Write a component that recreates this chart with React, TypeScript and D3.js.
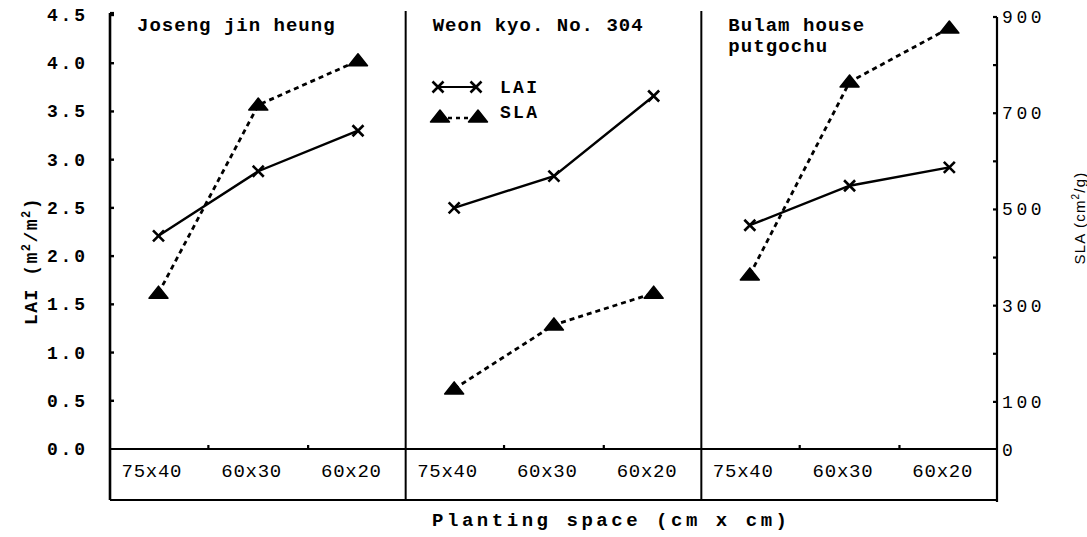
import React, { useEffect } from "react";
import * as d3 from "d3";

const cultivars = ["Joseng jin heung", "Weon kyo. No. 304", "Bulam house putgochu"];
const titleLines = [["Joseng jin heung"], ["Weon kyo. No. 304"], ["Bulam house", "putgochu"]];
const spacings = ["75x40", "60x30", "60x20"];
const laiValues = [
  [2.21, 2.88, 3.3],
  [2.5, 2.83, 3.66],
  [2.32, 2.73, 2.92],
];
const slaValues = [
  [326, 717, 809],
  [127, 260, 326],
  [364, 765, 877],
];
const laiTicks = [0, 0.5, 1, 1.5, 2, 2.5, 3, 3.5, 4, 4.5];
const slaTicks = [100, 200, 300, 400, 500, 600, 700, 800, 900];
const slaTickLabels = [0, 100, 300, 500, 700, 900];

const MONO = "'Liberation Mono', 'DejaVu Sans Mono', monospace";
const SANS = "'Liberation Sans', 'DejaVu Sans', sans-serif";

function XMark({ x, y }: { x: number; y: number }) {
  const s = 5.5;
  return (
    <path
      d={`M${x - s},${y - s}L${x + s},${y + s}M${x - s},${y + s}L${x + s},${y - s}`}
      stroke="#000"
      strokeWidth={2.6}
      fill="none"
    />
  );
}

function Tri({ x, y }: { x: number; y: number }) {
  return (
    <path
      d={`M${x},${y - 7}L${x + 9.5},${y + 5}L${x - 9.5},${y + 5}Z`}
      fill="#000"
      stroke="#000"
      strokeWidth={1.5}
      strokeLinejoin="round"
    />
  );
}

export default function App() {
  useEffect(() => {
    document.body.style.margin = "0";
  }, []);
  const W = 1087;
  const H = 537;
  const left = 110;
  const right = 997;
  const base = 449;
  const boxBottom = 500;

  const panel = d3.scaleBand<string>().domain(cultivars).range([left, right]);
  const xIn = d3.scalePoint<string>().domain(spacings).range([48.5, 248]);
  const yL = d3.scaleLinear().domain([0, 4.5]).range([base, 15]);
  const yR = d3.scaleLinear().domain([0, 900]).range([450, 17]);
  const line = d3.line<[number, number]>();

  return (
    <svg
      width={W}
      height={H}
      viewBox={`0 0 ${W} ${H}`}
      style={{ position: "absolute", left: 0, top: 0, background: "#fff" }}
    >
      <rect x={0} y={0} width={W} height={H} fill="#fff" />
      {/* frame */}
      <line x1={left} x2={left} y1={13} y2={boxBottom} stroke="#000" strokeWidth={2.6} />
      <line x1={left} x2={left + 4} y1={13} y2={13} stroke="#000" strokeWidth={2.2} />
      <line x1={right} x2={right} y1={17} y2={boxBottom + 2} stroke="#000" strokeWidth={2.2} />
      <line x1={left} x2={right} y1={base} y2={base} stroke="#000" strokeWidth={2.2} />
      <line x1={left} x2={right} y1={boxBottom} y2={boxBottom} stroke="#000" strokeWidth={2.2} />
      {cultivars.slice(1).map((c) => (
        <line
          key={c}
          x1={panel(c)!}
          x2={panel(c)!}
          y1={11}
          y2={boxBottom}
          stroke="#000"
          strokeWidth={2}
        />
      ))}

      {/* left axis ticks and labels */}
      {laiTicks.map((t) => (
        <g key={"l" + t}>
          {t > 0 && (
            <line x1={left} x2={left + 4} y1={yL(t)} y2={yL(t)} stroke="#000" strokeWidth={2.4} />
          )}
          <text
            x={85}
            y={yL(t) + 6}
            textAnchor="end"
            fontFamily={MONO}
            fontWeight="bold"
            fontSize={18}
            textLength={38}
            lengthAdjust="spacing"
          >
            {t.toFixed(1)}
          </text>
        </g>
      ))}

      {/* right axis ticks and labels */}
      {slaTicks.map((t) => (
        <line key={"r" + t} x1={right - 4} x2={right} y1={yR(t)} y2={yR(t)} stroke="#000" strokeWidth={2.2} />
      ))}
      {slaTickLabels.map((t) => {
        const s = String(t);
        return (
          <text
            key={"rl" + t}
            x={1002}
            y={yR(t) + 6}
            fontFamily={MONO}
            fontSize={18}
            textLength={s.length * 13.2}
            lengthAdjust="spacing"
          >
            {s}
          </text>
        );
      })}

      {/* panels */}
      {cultivars.map((c, i) => {
        const x0 = panel(c)!;
        const laiPts: [number, number][] = spacings.map((s, j) => [x0 + xIn(s)!, yL(laiValues[i][j])]);
        const slaPts: [number, number][] = spacings.map((s, j) => [x0 + xIn(s)!, yR(slaValues[i][j])]);
        const mids = [0.5, 1.5].map((k) => x0 + 48.5 + (k * (248 - 48.5)) / 2);
        return (
          <g key={c}>
            {mids.map((m) => (
              <line key={m} x1={m} x2={m} y1={base} y2={base - 4} stroke="#000" strokeWidth={2.2} />
            ))}
            {titleLines[i].map((t, k) => (
              <text
                key={t}
                x={x0 + 27}
                y={31 + k * 21}
                fontFamily={MONO}
                fontWeight="bold"
                fontSize={19}
                textLength={t.length * 12.35}
                lengthAdjust="spacing"
              >
                {t}
              </text>
            ))}
            <path d={line(slaPts)!} fill="none" stroke="#000" strokeWidth={2.8} strokeDasharray="5 4" />
            <path d={line(laiPts)!} fill="none" stroke="#000" strokeWidth={2.4} />
            {slaPts.map((p, j) => (
              <Tri key={"t" + j} x={p[0]} y={p[1]} />
            ))}
            {laiPts.map((p, j) => (
              <XMark key={"x" + j} x={p[0]} y={p[1]} />
            ))}
            {spacings.map((s) => (
              <text
                key={s}
                x={x0 + xIn(s)! - 7}
                y={477}
                textAnchor="middle"
                fontFamily={MONO}
                fontSize={19}
                textLength={60}
                lengthAdjust="spacing"
              >
                {s}
              </text>
            ))}
          </g>
        );
      })}

      {/* legend */}
      <g>
        <line x1={438} x2={476} y1={87} y2={87} stroke="#000" strokeWidth={2} />
        <XMark x={438} y={87} />
        <XMark x={476} y={87} />
        <text x={500} y={93} fontFamily={MONO} fontWeight="bold" fontSize={18} textLength={37} lengthAdjust="spacing">
          LAI
        </text>
        <line x1={440} x2={478} y1={118} y2={118} stroke="#000" strokeWidth={2.4} strokeDasharray="4 4" />
        <Tri x={440} y={117} />
        <Tri x={478} y={117} />
        <text x={500} y={118} fontFamily={MONO} fontWeight="bold" fontSize={18} textLength={37} lengthAdjust="spacing">
          SLA
        </text>
      </g>

      {/* axis titles */}
      <text
        x={432}
        y={526}
        fontFamily={MONO}
        fontWeight="bold"
        fontSize={19}
        textLength={355}
        lengthAdjust="spacing"
      >
        Planting space (cm x cm)
      </text>
      <text
        transform="translate(37,261) rotate(-90)"
        textAnchor="middle"
        fontFamily={MONO}
        fontWeight="bold"
        fontSize={18}
        letterSpacing={1.5}
      >
        LAI (m<tspan dy={-7} fontSize={12}>2</tspan>
        <tspan dy={7}>/m</tspan>
        <tspan dy={-7} fontSize={12}>2</tspan>
        <tspan dy={7}>)</tspan>
      </text>
      <text
        transform="translate(1085,218) rotate(-90)"
        textAnchor="middle"
        fontFamily={SANS}
        fontSize={15}
        letterSpacing={1.2}
      >
        SLA (cm<tspan dy={-6} fontSize={10}>2</tspan>
        <tspan dy={6}>/g)</tspan>
      </text>
    </svg>
  );
}
